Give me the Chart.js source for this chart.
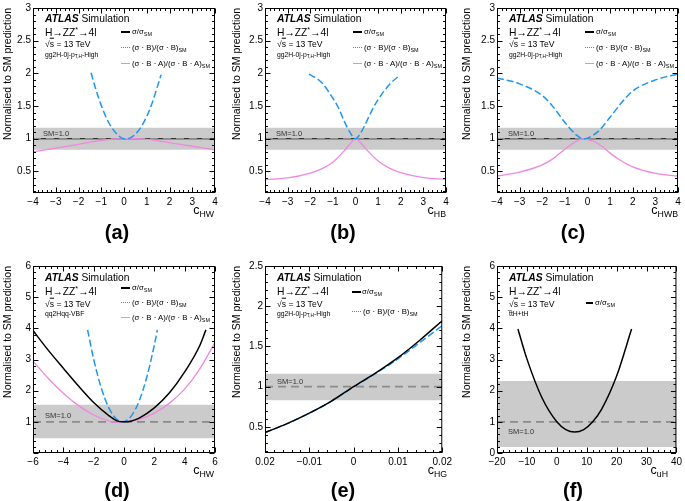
<!DOCTYPE html>
<html>
<head>
<meta charset="utf-8">
<script src="https://cdn.jsdelivr.net/npm/chart.js@4.4.0/dist/chart.umd.min.js"></script>
<style>
body { margin: 0; background: #fff; width: 685px; height: 501px; position: relative; overflow: hidden;
       font-family: "Liberation Sans", Arial, Helvetica, sans-serif; }
canvas { position: absolute; }
.t { position: absolute; white-space: nowrap; color: #000; line-height: 1; transform: translateY(-50%); }
.t sub { font-size: 70%; vertical-align: -0.4em; line-height: 0; }
.t sup { font-size: 70%; vertical-align: 0.5em; line-height: 0; }
.s { position: absolute; height: 0; }
</style>
</head>
<body>
<script>
// values

// (a) c_HW, gg2H-0j-pT,H-High
const aBlackX = [-4, 4];
const aBlack = [1.0, 1.0];
const aBlueX = [-1.45, -1.25, -1, -0.75, -0.5, -0.25, 0, 0.1, 0.25, 0.5, 0.75, 1, 1.25, 1.63];
const aBlue = [2.01, 1.77, 1.51, 1.30, 1.15, 1.05, 1.0, 1.0, 1.01, 1.07, 1.18, 1.34, 1.56, 1.98];
const aPinkX = [-4, -3, -2, -1, -0.5, 0, 0.5, 1, 2, 3, 4];
const aPink = [0.80, 0.855, 0.915, 0.975, 0.995, 1.0, 1.0, 0.99, 0.94, 0.885, 0.83];

// (b) c_HB
const bBlackX = [-4, 4];
const bBlack = [1.0, 1.0];
const bBlueX = [-2.05, -1.5, -1, -0.75, -0.5, -0.25, 0, 0.25, 0.5, 0.75, 1, 1.5, 1.95];
const bBlue = [1.99, 1.86, 1.62, 1.47, 1.27, 1.1, 1.0, 1.1, 1.27, 1.45, 1.6, 1.83, 1.97];
const bPinkX = [-4, -3, -2, -1.5, -1, -0.5, -0.25, 0, 0.25, 0.5, 1, 1.5, 2, 3, 4];
const bPink = [0.375, 0.40, 0.475, 0.54, 0.64, 0.815, 0.915, 1.0, 0.93, 0.83, 0.66, 0.55, 0.48, 0.405, 0.38];

// (c) c_HWB
const cBlackX = [-4, 4];
const cBlack = [1.0, 1.0];
const cX = [-4, -3, -2, -1.5, -1, -0.5, -0.2, 0, 0.5, 1, 1.5, 2, 3, 4];
const cBlue = [1.93, 1.84, 1.66, 1.48, 1.25, 1.06, 1.0, 1.01, 1.12, 1.33, 1.55, 1.73, 1.9, 1.99];
const cPink = [0.43, 0.49, 0.6, 0.7, 0.84, 0.96, 1.0, 0.99, 0.92, 0.78, 0.66, 0.57, 0.47, 0.43];

// (d) c_HW, qq2Hqq-VBF
const dBlackX = [-6, -5, -4, -3, -2, -1, -0.5, 0, 0.5, 1, 2, 3, 4, 5, 5.4];
const dBlack = [3.93, 3.3, 2.72, 2.15, 1.62, 1.2, 1.04, 1.0, 1.03, 1.12, 1.45, 1.93, 2.6, 3.45, 3.95];
const dBlueX = [-2.4, -2, -1.5, -1, -0.5, -0.1, 0.5, 1, 1.5, 2, 2.2];
const dBlue = [3.95, 3.01, 2.09, 1.45, 1.09, 1.0, 1.2, 1.67, 2.43, 3.46, 3.95];
const dPinkX = [-6, -5, -4, -3, -2, -1, -0.6, 0, 1, 2, 3, 4, 5, 6];
const dPink = [2.95, 2.4, 1.92, 1.52, 1.22, 1.03, 0.99, 1.0, 1.08, 1.28, 1.6, 2.05, 2.7, 3.55];

// (e) c_HG
const eX = [-0.02, -0.015, -0.01, -0.005, 0, 0.005, 0.01, 0.015, 0.02];
const eBlack = [0.43, 0.54, 0.67, 0.82, 1.0, 1.17, 1.36, 1.58, 1.82];
const eBlue = [0.43, 0.54, 0.67, 0.82, 1.0, 1.165, 1.345, 1.55, 1.76];

// (f) c_uH, ttH+tH
const fX = [-13, -10, -5, 0, 3, 6, 9, 12, 15, 20, 25];
const fBlack = [3.98, 3.02, 1.78, 1.0, 0.75, 0.67, 0.75, 1.0, 1.41, 2.47, 3.98];

// SM reference and uncertainty bands [low, high]
const smValue = 1.0;
const abcBand = [0.83, 1.17];
const dBand = [0.47, 1.55];
const eBand = [0.83, 1.16];
const fBand = [0.19, 2.31];

// tick labels
const abcXTicks = [-4, -3, -2, -1, 0, 1, 2, 3, 4];
const abcYTicks = [0.5, 1, 1.5, 2, 2.5, 3];
const dXTicks = [-6, -4, -2, 0, 2, 4, 6];
const dYTicks = [1, 2, 3, 4, 5, 6];
const eXTicks = [-0.02, -0.01, 0, 0.01, 0.02];
const eXLabels = ["0.02", "\u22120.01", "0", "0.01", "0.02"];
const eYTicks = [0.5, 1, 1.5, 2, 2.5];
const fXTicks = [-20, -10, 0, 10, 20, 30, 40];
const fYTicks = [0, 1, 2, 3, 4, 5, 6];

const BLUE = "rgb(30,150,240)";
const PINK = "rgb(240,135,225)";
const GREY = "rgb(140,140,140)";
const BAND = "rgb(203,203,203)";

Chart.defaults.font.family = '"Liberation Sans", Arial, Helvetica, sans-serif';

function pts(xs, ys) {
    return xs.map((x, i) => ({ x: x, y: ys[i] }));
}

function line(xs, ys, color, width, dash, order) {
    return {
        data: pts(xs, ys), borderColor: color, borderWidth: width, borderDash: dash || [],
        pointRadius: 0, fill: false, cubicInterpolationMode: "monotone", order: order
    };
}

function bandSet(xr, band) {
    return {
        data: pts(xr, [band[1], band[1]]), borderWidth: 0, pointRadius: 0,
        backgroundColor: BAND, fill: { value: band[0] }, order: 20
    };
}

function smLine(xr) {
    return line(xr, [smValue, smValue], GREY, 1.6, [8, 5], 4);
}

// frame with inward major/minor ticks on all four sides
const frameTicks = {
    id: "frameTicks",
    afterDatasetsDraw(chart, args, o) {
        const { ctx, chartArea: a, scales: { x, y } } = chart;
        const L = a.left + 0.5, R = a.right - 0.5, T = a.top + 0.5, B = a.bottom - 0.5;
        ctx.save();
        ctx.strokeStyle = "#000";
        ctx.lineWidth = 1;
        ctx.strokeRect(L, T, R - L, B - T);
        ctx.beginPath();
        const near = (v, step) => Math.abs(v / step - Math.round(v / step)) < 1e-6;
        let k0 = Math.ceil(x.min / o.xMinor - 1e-6);
        for (let k = k0; k * o.xMinor <= x.max + 1e-9; k++) {
            const v = k * o.xMinor;
            const px = Math.round(x.getPixelForValue(v)) + 0.5;
            const len = near(v, o.xMajor) ? 5 : 2.5;
            ctx.moveTo(px, B); ctx.lineTo(px, B - len);
            ctx.moveTo(px, T); ctx.lineTo(px, T + len);
        }
        k0 = Math.ceil(y.min / o.yMinor - 1e-6);
        for (let k = k0; k * o.yMinor <= y.max + 1e-9; k++) {
            const v = k * o.yMinor;
            const py = Math.round(y.getPixelForValue(v)) + 0.5;
            const len = near(v, o.yMajor) ? 5 : 2.5;
            ctx.moveTo(L, py); ctx.lineTo(L + len, py);
            ctx.moveTo(R, py); ctx.lineTo(R - len, py);
        }
        ctx.stroke();
        ctx.restore();
    }
};

function fmt(v) {
    return String(v).replace("-", "\u2212");
}

function makePanel(p) {
    const cv = document.createElement("canvas");
    cv.width = p.cw; cv.height = p.ch;
    cv.style.left = p.cx + "px"; cv.style.top = p.cy + "px";
    document.body.appendChild(cv);
    new Chart(cv.getContext("2d"), {
        type: "line",
        data: { datasets: p.datasets },
        options: {
            responsive: false, animation: false, devicePixelRatio: 1,
            layout: { padding: { left: 0, top: p.area.t - p.cy, right: p.cx + p.cw - p.area.r, bottom: 0 } },
            plugins: {
                legend: { display: false }, tooltip: { enabled: false },
                frameTicks: { xMajor: p.xMajor, xMinor: p.xMinor, yMajor: p.yMajor, yMinor: p.yMinor }
            },
            scales: {
                x: {
                    type: "linear", min: p.xr[0], max: p.xr[1],
                    grid: { display: false, drawTicks: false }, border: { display: false },
                    afterFit: (s) => { s.height = p.cy + p.ch - p.area.b; },
                    afterBuildTicks: (s) => { s.ticks = p.xTicks.map((v) => ({ value: v })); },
                    ticks: {
                        color: "#000", font: { size: 10 }, padding: 3, maxRotation: 0, autoSkip: false,
                        callback: (v, i) => (p.xLabels ? p.xLabels[i] : fmt(v))
                    }
                },
                y: {
                    type: "linear", min: p.yr[0], max: p.yr[1],
                    grid: { display: false, drawTicks: false }, border: { display: false },
                    afterFit: (s) => { s.width = p.area.l - p.cx; },
                    afterBuildTicks: (s) => { s.ticks = p.yTicks.map((v) => ({ value: v })); },
                    ticks: { color: "#000", font: { size: 10 }, padding: 2, autoSkip: false, callback: (v) => fmt(v) },
                    title: {
                        display: true, text: "Normalised to SM prediction", align: "end", color: "#000",
                        font: { size: 10.5 }, padding: { top: 1.5, bottom: 0 }
                    }
                }
            }
        },
        plugins: [frameTicks]
    });
}

function txt(x, y, html, size, extra) {
    const d = document.createElement("div");
    d.className = "t";
    d.style.left = x + "px"; d.style.top = y + "px"; d.style.fontSize = size + "px";
    if (extra) Object.assign(d.style, extra);
    d.innerHTML = html;
    document.body.appendChild(d);
    return d;
}

function sample(x1, x2, y, style) {
    const d = document.createElement("div");
    d.className = "s";
    d.style.left = x1 + "px"; d.style.width = (x2 - x1) + "px"; d.style.top = y + "px";
    d.style.borderTop = style;
    document.body.appendChild(d);
}

const LEG_BLACK = "&sigma;/&sigma;<sub>SM</sub>";
const LEG_BLUE = "(&sigma; &middot; B)/(&sigma; &middot; B)<sub>SM</sub>";
const LEG_PINK = "(&sigma; &middot; B &middot; A)/(&sigma; &middot; B &middot; A)<sub>SM</sub>";
const ROOTS = "&radic;<span style=\"text-decoration:overline\">s</span> = 13 TeV";
const HZZ = "H&rarr;ZZ<sup>*</sup>&rarr;4l";

function labels(p, rows, legend) {
    const L = p.area.l, T = p.area.t;
    txt(L + rows.dx, T + rows.y[0], "<b><i>ATLAS</i></b> Simulation", 10.3);
    txt(L + rows.dx, T + rows.y[1], HZZ, 10.3);
    txt(L + rows.dx, T + rows.y[2], ROOTS, 8.6);
    txt(L + rows.dx, T + rows.y[3], rows.cat, 6.8);
    legend.forEach((e) => {
        sample(L + e.s0, L + e.s1, T + e.y - 1, e.style);
        txt(L + e.tx, T + e.y, e.html, 7.8);
    });
    const yPix = p.area.t + (p.yr[1] - smValue) / (p.yr[1] - p.yr[0]) * (p.area.b - p.area.t);
    txt(L + p.smDx, yPix + p.smDy, "SM=1.0", 7.5, { color: "#333" });
    txt(0, p.xtY, "c<sub>" + p.xt + "</sub>", 12.5, { left: "auto", right: (685 - p.xtR) + "px" });
    txt(p.lab[0], p.lab[1], "(" + p.key + ")", 20, { fontWeight: "bold", transform: "translate(-50%,-50%)" });
}

const topRows = { dx: 12, y: [14, 27.5, 38.5, 50] };
const botRows = { dx: 12, y: [12, 26, 37.5, 48] };
const leg3top = [
    { y: 27, s0: 88, s1: 97, tx: 99, html: LEG_BLACK, style: "2px solid #000" },
    { y: 43, s0: 88, s1: 97, tx: 99, html: LEG_BLUE, style: "1.5px dotted " + BLUE },
    { y: 59, s0: 88, s1: 97, tx: 99, html: LEG_PINK, style: "1.5px solid " + PINK }
];

const panels = [
    {
        key: "a", cx: 0, cy: 0, cw: 225, ch: 215, area: { l: 33, t: 5, r: 215, b: 193 },
        xr: [-4, 4], yr: [0.17, 3], xTicks: abcXTicks, yTicks: abcYTicks,
        xMajor: 1, xMinor: 0.2, yMajor: 0.5, yMinor: 0.1,
        datasets: [
            bandSet([-4, 4], abcBand), smLine([-4, 4]),
            line(aBlackX, aBlack, "#000", 1.2, [], 5),
            line(aPinkX, aPink, PINK, 1.3, [], 3),
            line(aBlueX, aBlue, BLUE, 1.5, [7, 3], 2)
        ],
        rows: Object.assign({ cat: "gg2H-0j-p<sub>T,H</sub>-High" }, topRows), legend: leg3top,
        smDx: 10, smDy: -4, xt: "HW", xtR: 214, xtY: 210, lab: [117, 232]
    },
    {
        key: "b", cx: 229, cy: 0, cw: 226, ch: 215, area: { l: 265, t: 5, r: 446, b: 193 },
        xr: [-4, 4], yr: [0.17, 3], xTicks: abcXTicks, yTicks: abcYTicks,
        xMajor: 1, xMinor: 0.2, yMajor: 0.5, yMinor: 0.1,
        datasets: [
            bandSet([-4, 4], abcBand), smLine([-4, 4]),
            line(bBlackX, bBlack, "#000", 1.2, [], 5),
            line(bPinkX, bPink, PINK, 1.3, [], 3),
            line(bBlueX, bBlue, BLUE, 1.5, [7, 3], 2)
        ],
        rows: Object.assign({ cat: "gg2H-0j-p<sub>T,H</sub>-High" }, topRows), legend: leg3top,
        smDx: 11, smDy: -4, xt: "HB", xtR: 446, xtY: 210, lab: [343, 232]
    },
    {
        key: "c", cx: 459, cy: 0, cw: 226, ch: 215, area: { l: 497, t: 5, r: 678, b: 193 },
        xr: [-4, 4], yr: [0.17, 3], xTicks: abcXTicks, yTicks: abcYTicks,
        xMajor: 1, xMinor: 0.2, yMajor: 0.5, yMinor: 0.1,
        datasets: [
            bandSet([-4, 4], abcBand), smLine([-4, 4]),
            line(cBlackX, cBlack, "#000", 1.2, [], 5),
            line(cX, cPink, PINK, 1.3, [], 3),
            line(cX, cBlue, BLUE, 1.5, [7, 3], 2)
        ],
        rows: Object.assign({ cat: "gg2H-0j-p<sub>T,H</sub>-High" }, topRows), legend: leg3top,
        smDx: 11, smDy: -4, xt: "HWB", xtR: 678, xtY: 210, lab: [573, 232]
    },
    {
        key: "d", cx: 0, cy: 256, cw: 225, ch: 215, area: { l: 33, t: 266, r: 215, b: 453 },
        xr: [-6, 6], yr: [0, 6], xTicks: dXTicks, yTicks: dYTicks,
        xMajor: 2, xMinor: 0.4, yMajor: 1, yMinor: 0.2,
        datasets: [
            bandSet([-6, 6], dBand), smLine([-6, 6]),
            line(dPinkX, dPink, PINK, 1.3, [], 3),
            line(dBlueX, dBlue, BLUE, 1.5, [7, 3], 2),
            line(dBlackX, dBlack, "#000", 1.5, [], 1)
        ],
        rows: Object.assign({ cat: "qq2Hqq-VBF" }, botRows),
        legend: [
            { y: 22, s0: 88, s1: 97, tx: 99, html: LEG_BLACK, style: "2px solid #000" },
            { y: 37, s0: 88, s1: 97, tx: 99, html: LEG_BLUE, style: "1.5px dotted " + BLUE },
            { y: 52, s0: 88, s1: 97, tx: 99, html: LEG_PINK, style: "1.5px solid " + PINK }
        ],
        smDx: 12, smDy: -6, xt: "HW", xtR: 214, xtY: 470, lab: [117, 490]
    },
    {
        key: "e", cx: 229, cy: 256, cw: 226, ch: 215, area: { l: 265, t: 266, r: 446, b: 453 },
        xr: [-0.02, 0.02], yr: [0.175, 2.5], xTicks: eXTicks, xLabels: eXLabels, yTicks: eYTicks,
        xMajor: 0.01, xMinor: 0.002, yMajor: 0.5, yMinor: 0.1,
        datasets: [
            bandSet([-0.02, 0.02], eBand), smLine([-0.02, 0.02]),
            line(eX, eBlue, BLUE, 1.5, [7, 3], 2),
            line(eX, eBlack, "#000", 1.5, [], 1)
        ],
        rows: Object.assign({ cat: "gg2H-0j-p<sub>T,H</sub>-High" }, botRows),
        legend: [
            { y: 26, s0: 87, s1: 96, tx: 97, html: LEG_BLACK, style: "2px solid #000" },
            { y: 46, s0: 87, s1: 96, tx: 98, html: LEG_BLUE, style: "1.5px dotted " + BLUE }
        ],
        smDx: 12, smDy: -5, xt: "HG", xtR: 447, xtY: 470, lab: [343, 490]
    },
    {
        key: "f", cx: 459, cy: 256, cw: 226, ch: 215, area: { l: 497, t: 266, r: 678, b: 453 },
        xr: [-20, 40], yr: [0, 6], xTicks: fXTicks, yTicks: fYTicks,
        xMajor: 10, xMinor: 2, yMajor: 1, yMinor: 0.2,
        datasets: [
            bandSet([-20, 40], fBand), smLine([-20, 40]),
            line(fX, fBlack, "#000", 1.5, [], 1)
        ],
        rows: Object.assign({ cat: "t&#773;tH+tH" }, botRows),
        legend: [
            { y: 37, s0: 89, s1: 96, tx: 98, html: LEG_BLACK, style: "2px solid #000" }
        ],
        smDx: 11, smDy: 10, xt: "uH", xtR: 668, xtY: 470, lab: [573, 490]
    }
];

panels.forEach((p) => {
    makePanel(p);
    labels(p, p.rows, p.legend);
});
</script>
</body>
</html>
